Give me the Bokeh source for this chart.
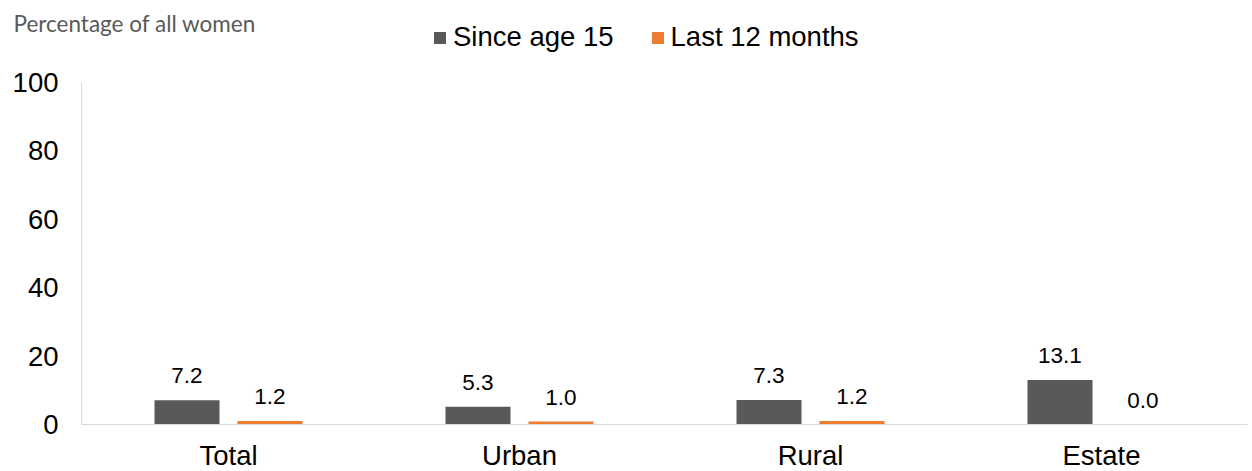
import numpy as np
from bokeh.plotting import figure
from bokeh.models import (ColumnDataSource, Range1d, LabelSet, Label,
                          Legend, LegendItem, FixedTicker)
from bokeh.core.properties import value
from bokeh.transform import dodge
from bokeh.embed import file_html
from bokeh.resources import INLINE

categories = ["Total", "Urban", "Rural", "Estate"]
since_age_15 = [7.2, 5.3, 7.3, 13.1]
last_12_months = [1.2, 1.0, 1.2, 0.0]
series_names = ["Since age 15", "Last 12 months"]
y_ticks = [0, 20, 40, 60, 80, 100]
title_text = "Percentage of all women"

GREY = "#595959"
ORANGE = "#ED7D31"
FONT = "Liberation Sans"
BIG = "27.5px"

xpos = np.arange(len(categories))
src = ColumnDataSource(dict(
    x=xpos,
    s15=since_age_15,
    l12=last_12_months,
    s15_lbl=[f"{v:.1f}" for v in since_age_15],
    l12_lbl=[f"{v:.1f}" for v in last_12_months],
))

W, H = 1252, 471
p = figure(x_range=Range1d(-0.7835, 3.5189), y_range=Range1d(-13.58, 123.94),
           width=W, height=H, output_backend="svg", toolbar_location=None,
           min_border=0, min_border_left=0, min_border_right=0,
           min_border_top=0, min_border_bottom=0)

off = 0.1426
bw = 0.2234
r1 = p.vbar(x=dodge("x", -off), top="s15", width=bw,
            source=src, fill_color=GREY, line_color=None)
r2 = p.vbar(x=dodge("x", off), top="l12", width=bw,
            source=src, fill_color=ORANGE, line_color=None)

for xo, ycol, tcol in [(-off, "s15", "s15_lbl"), (off, "l12", "l12_lbl")]:
    ls = LabelSet(x=dodge("x", xo), y=ycol, text=tcol,
                  source=src, y_offset=17, text_align="center",
                  text_baseline="alphabetic", text_font=value(FONT),
                  text_font_size=value("22.5px"), text_color="#000000")
    p.add_layout(ls)

p.xgrid.visible = False
p.ygrid.visible = False
p.outline_line_color = None

for ax in (p.xaxis[0], p.yaxis[0]):
    ax.axis_line_color = "#D9D9D9"
    ax.axis_line_width = 1
    ax.major_tick_line_color = None
    ax.minor_tick_line_color = None
    ax.major_tick_out = 0
    ax.major_tick_in = 0
    ax.major_label_text_font = FONT
    ax.major_label_text_font_size = BIG
    ax.major_label_text_color = "#000000"

p.yaxis[0].ticker = FixedTicker(ticks=y_ticks)
p.yaxis[0].bounds = (0, 100)
p.yaxis[0].fixed_location = -0.5052
p.yaxis[0].major_label_standoff = 23

p.xaxis[0].ticker = FixedTicker(ticks=list(xpos))
p.xaxis[0].major_label_overrides = {int(i): c for i, c in zip(xpos, categories)}
p.xaxis[0].bounds = (-0.5052, 3.5017)
p.xaxis[0].fixed_location = 0
p.xaxis[0].major_label_standoff = 15

title = Label(x=13, y=448, x_units="screen", y_units="screen",
              text=title_text, text_font="Lato", text_font_size="22.5px",
              text_color=GREY, text_baseline="alphabetic", text_align="left")
p.add_layout(title)

legend = Legend(items=[LegendItem(label=series_names[0], renderers=[r1]),
                       LegendItem(label=series_names[1], renderers=[r2])],
                orientation="horizontal", location=(432, 418),
                glyph_width=15, glyph_height=15, label_standoff=6, spacing=36,
                padding=0, margin=0, border_line_color=None,
                background_fill_alpha=0,
                label_text_font=FONT, label_text_font_size=BIG,
                label_text_color="#000000")
p.add_layout(legend)

open("out.html", "w").write(file_html(p, INLINE))
